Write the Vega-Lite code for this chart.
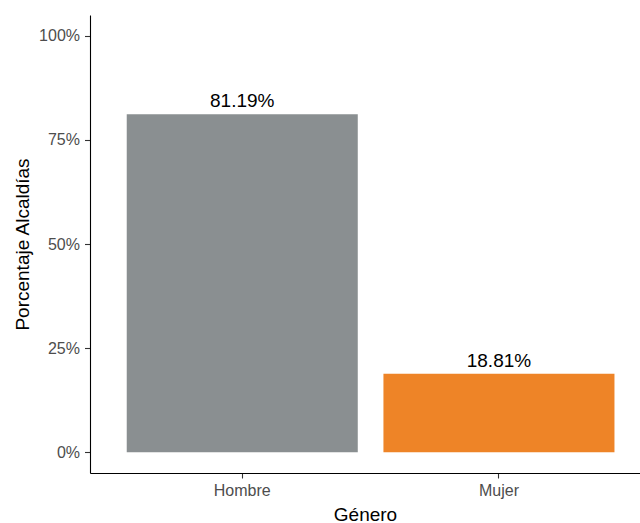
{
  "$schema": "https://vega.github.io/schema/vega-lite/v6.json",
  "width": 550,
  "height": 458,
  "autosize": {"type": "none"},
  "padding": {"left": 90, "top": 15, "right": 0, "bottom": 50},
  "background": "white",
  "config": {"view": {"stroke": null}, "font": "Liberation Sans"},
  "data": {"values": [
    {"genero": "Hombre", "pct": 0.8119},
    {"genero": "Mujer", "pct": 0.1881}
  ]},
  "encoding": {
    "x": {
      "field": "genero", "type": "nominal",
      "scale": {"paddingInner": 0.1, "paddingOuter": 0.1213, "align": 0.59},
      "axis": {
        "title": "Género", "labelAngle": 0, "grid": false,
        "domainColor": "#000000", "domainWidth": 1.1,
        "tickColor": "#333333", "tickSize": 5, "tickWidth": 1.1,
        "labelColor": "#4d4d4d", "labelFontSize": 16, "labelPadding": 4,
        "titleFontSize": 19, "titleFontWeight": "normal", "titleColor": "#000000", "titlePadding": 7
      }
    },
    "y": {
      "field": "pct", "type": "quantitative",
      "scale": {"domain": [-0.05, 1.05], "nice": false, "zero": false},
      "axis": {
        "title": "Porcentaje Alcaldías", "values": [0, 0.25, 0.5, 0.75, 1], "format": ".0%", "grid": false,
        "domainColor": "#000000", "domainWidth": 1.1,
        "tickColor": "#333333", "tickSize": 5.5, "tickWidth": 1.1,
        "labelColor": "#4d4d4d", "labelFontSize": 16, "labelPadding": 5,
        "titleFontSize": 19, "titleFontWeight": "normal", "titleColor": "#000000", "titlePadding": 6
      }
    }
  },
  "layer": [
    {
      "mark": {"type": "bar"},
      "encoding": {
        "y2": {"datum": 0},
        "color": {"field": "genero", "type": "nominal", "scale": {"domain": ["Hombre", "Mujer"], "range": ["#8a8f91", "#ee8427"]}, "legend": null}
      }
    },
    {
      "mark": {"type": "text", "dy": -7, "baseline": "alphabetic", "fontSize": 19, "color": "#000000"},
      "encoding": {
        "text": {"field": "pct", "type": "quantitative", "format": ".2%"}
      }
    }
  ]
}
